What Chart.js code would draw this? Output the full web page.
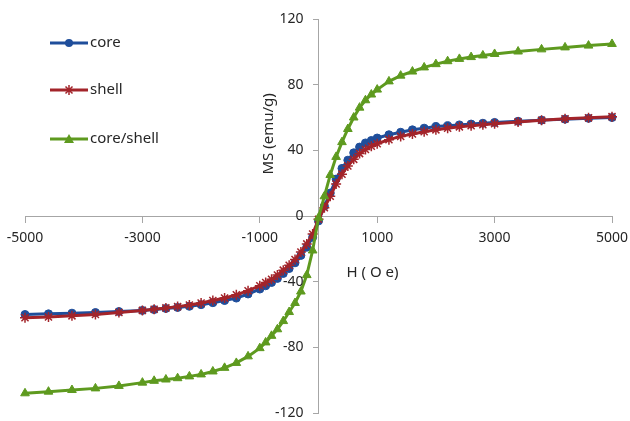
<!DOCTYPE html>
<html>
<head>
<meta charset="utf-8">
<script src="https://cdn.jsdelivr.net/npm/chart.js@4/dist/chart.umd.min.js"></script>
<style>
  body { margin: 0; background: #fff; }
  canvas { display: block; }
</style>
</head>
<body>
<canvas id="myChart" width="630" height="421"></canvas>
<script>
// field values (Oe)
const fieldH = [-5000, -4600, -4200, -3800, -3400,
  -3000, -2800, -2600, -2400, -2200, -2000, -1800, -1600, -1400, -1200,
  -1000, -900, -800, -700, -600, -500, -400, -300, -200, -100,
  0,
  100, 200, 300, 400, 500, 600, 700, 800, 900, 1000,
  1200, 1400, 1600, 1800, 2000, 2200, 2400, 2600, 2800, 3000,
  3400, 3800, 4200, 4600, 5000];

const coreM = [-60, -59.6, -59.2, -58.8, -58.2,
  -57.5, -57, -56.3, -55.7, -55, -54, -52.8, -51.5, -50, -47.5,
  -44.5, -42.5, -40.5, -38, -35, -32, -28.5, -24, -19, -13,
  -3,
  6, 14, 22.5, 29, 34, 38.5, 42, 44.5, 46, 47.5,
  49.5, 51, 52.5, 53.5, 54.5, 55, 55.5, 56, 56.5, 57,
  57.7, 58.4, 59, 59.5, 60];

const shellM = [-62, -61.5, -60.8, -60, -58.8,
  -57.5, -56.8, -56, -55.2, -54.2, -53, -51.5, -50, -48, -45.5,
  -42.5, -40.5, -38.5, -36, -33, -30, -26.5, -22, -17, -11,
  -2,
  5, 12, 19.5, 25.5, 30.5, 34.5, 38, 40.5, 42.5, 44,
  46.5, 48.5, 50, 51.3, 52.5, 53.5, 54.3, 55, 55.6, 56.2,
  57.3, 58.3, 59.2, 59.8, 60.5];

const coreShellM = [-108, -107, -106, -105, -103.5,
  -101.5, -100.4, -99.6, -98.8, -97.7, -96.5, -94.7, -92.5, -89.5, -85.5,
  -80.5, -77, -73, -69, -64, -58.5, -53, -46, -36, -21,
  -1,
  12, 25, 36, 45, 53, 60, 66, 70.5, 74, 77,
  82, 85.5, 88, 90.5, 92.5, 94.3, 95.7, 96.8, 97.8, 98.7,
  100.2, 101.5, 102.7, 103.8, 104.8];

const seriesNames = ['core', 'shell', 'core/shell'];
const xTitle = 'H ( O e)';
const yTitle = 'MS (emu/g)';

const FONT = '"Noto Sans", sans-serif';
const AXIS_COL = '#a6a6a6';
const TXT_COL = '#262626';

const colors = ['#1f4e9b', '#a3242a', '#5e9a1f'];
const styles = ['circle', 'star', 'triangle'];

function pts(arr) {
  return fieldH.map((h, i) => ({ x: h, y: arr[i] }));
}

function drawMarker(ctx, style, x, y, col) {
  ctx.save();
  ctx.fillStyle = col;
  ctx.strokeStyle = col;
  ctx.lineWidth = 1.5;
  if (style === 'circle') {
    ctx.beginPath(); ctx.arc(x, y, 4, 0, Math.PI * 2); ctx.fill();
  } else if (style === 'triangle') {
    ctx.beginPath();
    ctx.moveTo(x, y - 5); ctx.lineTo(x + 5, y + 4); ctx.lineTo(x - 5, y + 4);
    ctx.closePath(); ctx.fill();
  } else {
    const r = 5;
    ctx.beginPath();
    ctx.moveTo(x - r, y); ctx.lineTo(x + r, y);
    ctx.moveTo(x, y - r); ctx.lineTo(x, y + r);
    ctx.moveTo(x - r * 0.7, y - r * 0.7); ctx.lineTo(x + r * 0.7, y + r * 0.7);
    ctx.moveTo(x - r * 0.7, y + r * 0.7); ctx.lineTo(x + r * 0.7, y - r * 0.7);
    ctx.stroke();
  }
  ctx.restore();
}

// legend, tick labels and axis titles drawn by hand, like the excel original
const extras = {
  id: 'extras',
  afterDraw(chart) {
    const ctx = chart.ctx;
    const xs = chart.scales.x, ys = chart.scales.y;
    const x0 = xs.getPixelForValue(0), y0 = ys.getPixelForValue(0);
    ctx.save();
    const rows = [43, 90, 139];
    seriesNames.forEach((n, i) => {
      const y = rows[i];
      ctx.strokeStyle = colors[i];
      ctx.lineWidth = 3;
      ctx.beginPath(); ctx.moveTo(50, y); ctx.lineTo(88, y); ctx.stroke();
      drawMarker(ctx, styles[i], 69, y, colors[i]);
      ctx.fillStyle = TXT_COL;
      ctx.font = '15px ' + FONT;
      ctx.textAlign = 'left';
      ctx.textBaseline = 'middle';
      ctx.fillText(n, 90, y);
    });

    ctx.font = '14px ' + FONT;
    ctx.fillStyle = TXT_COL;
    ctx.textAlign = 'right';
    ctx.textBaseline = 'middle';
    ys.ticks.forEach(t => {
      ctx.fillText(String(t.value), x0 - 15, ys.getPixelForValue(t.value));
    });
    ctx.textAlign = 'center';
    xs.ticks.forEach(t => {
      ctx.fillText(String(t.value), xs.getPixelForValue(t.value), y0 + 22);
    });

    ctx.font = '15px ' + FONT;
    ctx.fillText(xTitle, xs.getPixelForValue(920), y0 + 57);

    ctx.translate(x0 - 50, ys.getPixelForValue(50));
    ctx.rotate(-Math.PI / 2);
    ctx.fillText(yTitle, 0, 0);
    ctx.restore();
  }
};

const datasets = [coreM, shellM, coreShellM].map((arr, i) => ({
  label: seriesNames[i],
  data: pts(arr),
  borderColor: colors[i],
  backgroundColor: colors[i],
  borderWidth: 3,
  pointStyle: styles[i],
  pointRadius: i === 0 ? 4 : 5,
  pointBorderWidth: i === 1 ? 1.5 : 1,
  pointBackgroundColor: colors[i],
  pointBorderColor: colors[i],
  tension: 0,
  clip: false,
  order: 3 - i
}));

new Chart(document.getElementById('myChart'), {
  type: 'line',
  data: { datasets: datasets },
  options: {
    responsive: false,
    animation: false,
    layout: { padding: { left: 25, right: 18, top: 19, bottom: 8 } },
    plugins: { legend: { display: false }, tooltip: { enabled: false } },
    scales: {
      x: {
        type: 'linear',
        position: { y: 0 },
        min: -5000, max: 5000,
        ticks: { stepSize: 2000, display: false },
        grid: { drawOnChartArea: false, drawTicks: true, tickLength: 6, color: AXIS_COL },
        border: { color: AXIS_COL, width: 1 }
      },
      y: {
        type: 'linear',
        position: { x: 0 },
        min: -120, max: 120,
        ticks: { stepSize: 40, display: false },
        grid: { drawOnChartArea: false, drawTicks: true, tickLength: 5, color: AXIS_COL },
        border: { color: AXIS_COL, width: 1 }
      }
    }
  },
  plugins: [extras]
});
</script>
</body>
</html>
